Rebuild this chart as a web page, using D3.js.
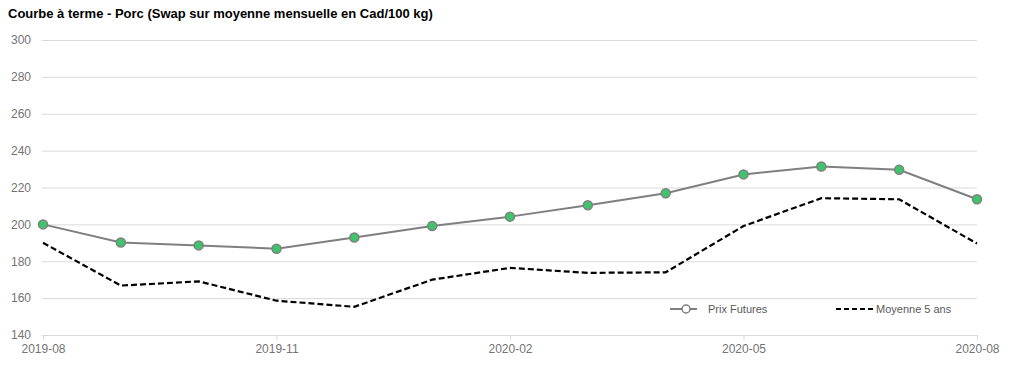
<!DOCTYPE html>
<html>
<head>
<meta charset="utf-8">
<script src="https://cdn.jsdelivr.net/npm/d3@7"></script>
<style>
  html, body { margin: 0; padding: 0; background: #fff; }
  svg { display: block; }
</style>
</head>
<body>
<svg id="chart" width="1024" height="381"></svg>
<script>
const months = ["2019-08","2019-09","2019-10","2019-11","2019-12","2020-01","2020-02","2020-03","2020-04","2020-05","2020-06","2020-07","2020-08"];
const prixFutures = [200, 190.2, 188.6, 186.8, 192.9, 199.1, 204.2, 210.4, 216.9, 227.1, 231.4, 229.6, 213.6];
const moyenne5ans = [190, 166.8, 169.1, 158.6, 155.3, 170, 176.4, 173.7, 174, 199.1, 214.2, 213.6, 189.6];
const xTickLabels = ["2019-08","2019-11","2020-02","2020-05","2020-08"];
const yTicks = [140,160,180,200,220,240,260,280,300];
const title = "Courbe à terme - Porc (Swap sur moyenne mensuelle en Cad/100 kg)";
const seriesNames = ["Prix Futures", "Moyenne 5 ans"];

const svg = d3.select("#chart");
const font = "'Liberation Sans', Arial, sans-serif";

const x = d3.scalePoint().domain(months).range([43, 977]);
const y = d3.scaleLinear().domain([140, 300]).range([335, 40]);

svg.append("text")
  .attr("x", 8).attr("y", 18)
  .attr("font-family", font).attr("font-size", 13).attr("font-weight", "bold")
  .attr("fill", "#000")
  .text(title);

// gridlines
const yAxis = d3.axisLeft(y).tickValues(yTicks).tickSize(-(977 - 42)).tickPadding(11);
const gy = svg.append("g").attr("transform", "translate(42,0)").call(yAxis);
gy.select(".domain").remove();
gy.selectAll(".tick line").attr("stroke", "#d9d9d9").attr("stroke-width", 1);
gy.selectAll(".tick text").attr("font-family", font).attr("font-size", 12).attr("fill", "#737373");

// x axis
const xAxis = d3.axisBottom(x).tickValues(xTickLabels).tickSize(5).tickPadding(4);
const gx = svg.append("g").attr("transform", "translate(0,335)").call(xAxis);
gx.select(".domain").attr("stroke", "#d9d9d9").attr("d", "M42,0.5H977");
gx.selectAll(".tick line").attr("stroke", "#d9d9d9");
gx.selectAll(".tick text").attr("font-family", font).attr("font-size", 12).attr("fill", "#737373");

// moyenne line
const line = d3.line().x((d, i) => x(months[i])).y(d => y(d));
svg.append("path").datum(moyenne5ans)
  .attr("d", line).attr("fill", "none")
  .attr("stroke", "#000").attr("stroke-width", 2.2).attr("stroke-dasharray", "6,3");

// prix line
svg.append("path").datum(prixFutures)
  .attr("d", line).attr("fill", "none")
  .attr("stroke", "#7f7f7f").attr("stroke-width", 2);

svg.append("g").selectAll("circle").data(prixFutures).join("circle")
  .attr("cx", (d, i) => x(months[i])).attr("cy", d => y(d)).attr("r", 4.5)
  .attr("fill", "#3ec46d").attr("stroke", "#808080").attr("stroke-width", 1.5);

// legend
const ly = 309;
const lg = svg.append("g");
lg.append("line").attr("x1", 670).attr("x2", 697).attr("y1", ly).attr("y2", ly)
  .attr("stroke", "#7f7f7f").attr("stroke-width", 2);
lg.append("circle").attr("cx", 686).attr("cy", ly).attr("r", 4)
  .attr("fill", "#fff").attr("stroke", "#7f7f7f").attr("stroke-width", 1.5);
lg.append("text").attr("x", 708).attr("y", ly + 4)
  .attr("font-family", font).attr("font-size", 11).attr("fill", "#595959").text(seriesNames[0]);
lg.append("line").attr("x1", 836).attr("x2", 873).attr("y1", ly).attr("y2", ly)
  .attr("stroke", "#000").attr("stroke-width", 2).attr("stroke-dasharray", "5,3");
lg.append("text").attr("x", 876).attr("y", ly + 4)
  .attr("font-family", font).attr("font-size", 11).attr("fill", "#595959").text(seriesNames[1]);
</script>
</body>
</html>
